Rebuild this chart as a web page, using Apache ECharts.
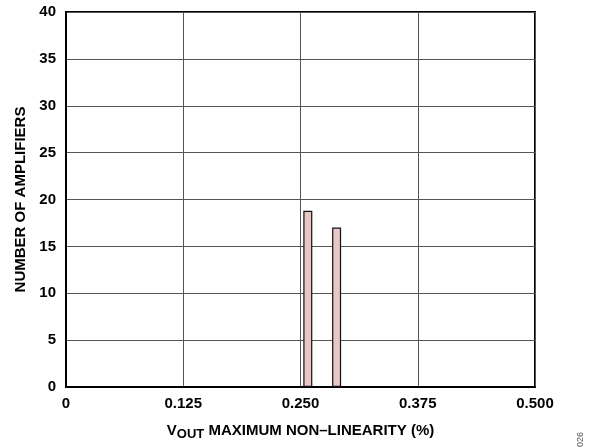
<!DOCTYPE html>
<html><head><meta charset="utf-8">
<script src="https://cdn.jsdelivr.net/npm/echarts@6/dist/echarts.min.js"></script>
<style>html,body{margin:0;padding:0;background:#fff}#c{width:595px;height:447px}</style>
</head><body><div id="c"></div>
<script>
const binCenters = [0.2578, 0.2885];
const counts = [18.8, 17.0];
const xTicks = [0, 0.125, 0.25, 0.375, 0.5];
const yTicks = [0, 5, 10, 15, 20, 25, 30, 35, 40];

const chart = echarts.init(document.getElementById('c'), null, {renderer: 'canvas'});
const font = 'Liberation Sans, Arial, sans-serif';
chart.setOption({
  animation: false,
  grid: {left: 66, right: 60, top: 12, bottom: 60, show: true, borderColor: '#000', borderWidth: 2},
  xAxis: {
    type: 'value', min: 0, max: 0.5, interval: 0.125,
    axisLine: {show: true, lineStyle: {color: '#000', width: 2}},
    axisTick: {show: false},
    splitLine: {show: true, lineStyle: {color: '#555', width: 1}},
    axisLabel: {
      margin: 9, color: '#000', fontFamily: font, fontWeight: 'bold', fontSize: 15,
      formatter: v => v === 0 ? '0' : v.toFixed(3)
    },
    name: '{v|V}{s|OUT}{v| MAXIMUM NON–LINEARITY (%)}',
    nameLocation: 'middle', nameGap: 34,
    nameTextStyle: {
      rich: {
        v: {fontFamily: font, fontWeight: 'bold', fontSize: 15, color: '#000'},
        s: {fontFamily: font, fontWeight: 'bold', fontSize: 13, color: '#000', padding: [7,0,0,0]}
      }
    }
  },
  yAxis: {
    type: 'value', min: 0, max: 40, interval: 5,
    axisLine: {show: true, lineStyle: {color: '#000', width: 2}},
    axisTick: {show: false},
    splitLine: {show: true, lineStyle: {color: '#555', width: 1}},
    axisLabel: {margin: 10, color: '#000', fontFamily: font, fontWeight: 'bold', fontSize: 15},
    name: 'NUMBER OF AMPLIFIERS', nameLocation: 'middle', nameGap: 37,
    nameTextStyle: {fontFamily: font, fontWeight: 'bold', fontSize: 15, color: '#000'}
  },
  series: [{
    type: 'bar',
    data: binCenters.map((x, i) => [x, counts[i]]),
    barWidth: 9,
    itemStyle: {color: '#e8c8c6', borderColor: '#111', borderWidth: 1.2}
  }],
  graphic: [{
    type: 'text', left: 576, top: 432, rotation: Math.PI / 2,
    style: {text: '026', fontFamily: font, fontSize: 9, fill: '#555'}
  }]
});
</script></body></html>
